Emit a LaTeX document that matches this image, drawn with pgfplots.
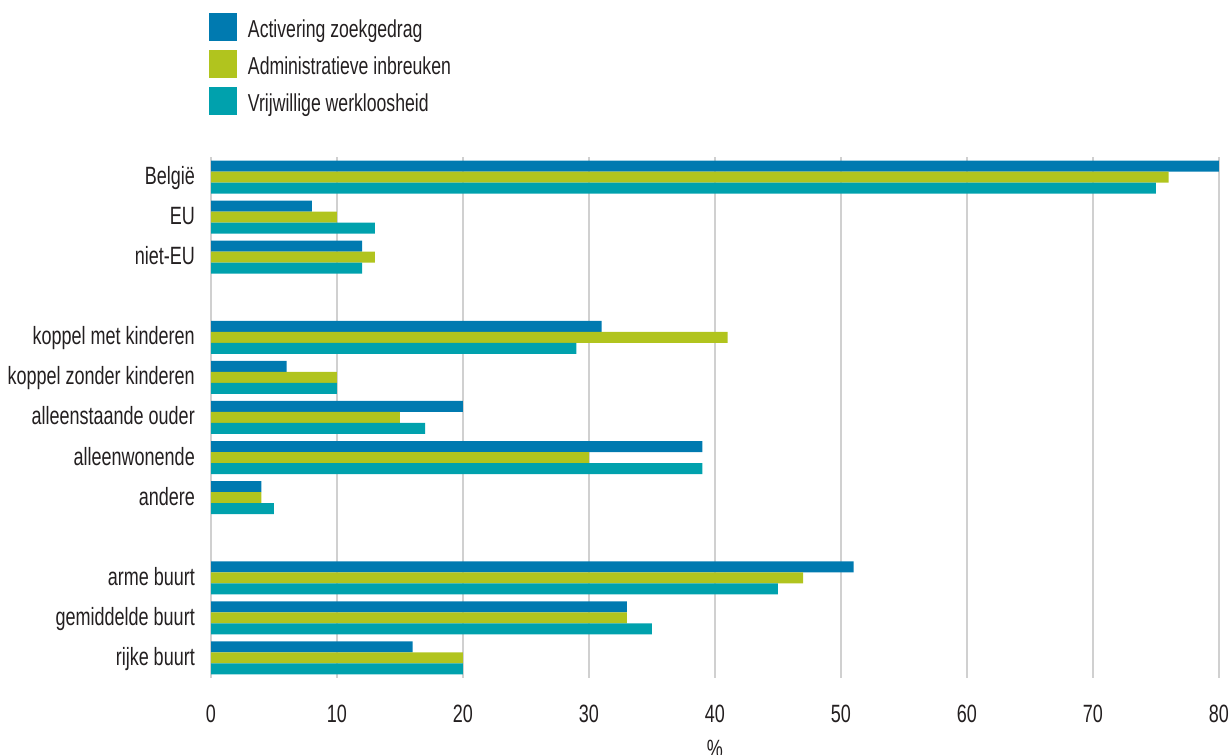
\documentclass[border=0pt]{standalone}
\usepackage{pgfplots}
\pgfplotsset{compat=1.18}
\usepackage{pgfplotstable}
\usepackage{fontspec}
\setmainfont{Liberation Sans}[FakeStretch=0.72]

\definecolor{actblue}{RGB}{0,122,176}
\definecolor{admlime}{RGB}{177,196,30}
\definecolor{vrjteal}{RGB}{0,161,173}
\definecolor{gridgray}{RGB}{208,208,208}
\definecolor{txtgray}{RGB}{35,31,32}

% rows from bottom (0) to top (12); 3 and 9 are spacer rows
\pgfplotstableread{
y x
12 80
11 8
10 12
8 31
7 6
6 20
5 39
4 4
2 51
1 33
0 16
}\actTable
\pgfplotstableread{
y x
12 76
11 10
10 13
8 41
7 10
6 15
5 30
4 4
2 47
1 33
0 20
}\admTable
\pgfplotstableread{
y x
12 75
11 13
10 12
8 29
7 10
6 17
5 39
4 5
2 45
1 35
0 20
}\vrjTable

\begin{document}
\begin{tikzpicture}[x=1bp,y=1bp]
\path[use as bounding box] (0,0) rectangle (1231,755);
\begin{axis}[
  at={(211bp,77bp)}, anchor=south west,
  scale only axis, width=1008bp, height=521bp,
  xmin=0, xmax=80, ymin=-0.5, ymax=12.5,
  xbar, bar width=11bp,
  axis line style={draw=none},
  major tick length=0pt,
  xtick={0,10,...,80},
  xmajorgrids, grid style={gridgray, line width=1.6bp},
  ytick={0,1,2,4,5,6,7,8,10,11,12},
  yticklabels={rijke buurt,gemiddelde buurt,arme buurt,andere,alleenwonende,alleenstaande ouder,koppel zonder kinderen,koppel met kinderen,niet-EU,EU,België},
  /pgf/number format/assume math mode=true,
  ticklabel style={font=\fontsize{25bp}{30bp}\selectfont, text=txtgray, inner sep=0pt},
  xticklabel style={anchor=base, yshift=-45bp},
  yticklabel style={anchor=base east, xshift=-16bp, yshift=-7.5bp},
  xlabel={\%},
  xlabel style={font=\fontsize{25bp}{30bp}\selectfont, text=txtgray, inner sep=0pt, anchor=north, at={(axis description cs:0.5,0)}, yshift=-62bp},
  legend style={at={(axis description cs:-0.002,1.2764)}, anchor=north west, draw=none, fill=none,
    font=\fontsize{24.5bp}{29bp}\selectfont, text=txtgray,
    row sep=9bp, column sep=11bp, inner sep=0pt, outer sep=0pt,
    nodes={inner sep=0pt, text=txtgray}},
  legend cell align=left,
  legend image code/.code={\fill (0bp,-12bp) rectangle (28bp,16bp);},
]
\addplot[fill=actblue, draw=none, bar shift=11bp] table[x=x,y=y] {\actTable};
\addplot[fill=admlime, draw=none, bar shift=0bp] table[x=x,y=y] {\admTable};
\addplot[fill=vrjteal, draw=none, bar shift=-11bp] table[x=x,y=y] {\vrjTable};
\legend{Activering zoekgedrag, Administratieve inbreuken, Vrijwillige werkloosheid}
\end{axis}
\end{tikzpicture}
\end{document}
